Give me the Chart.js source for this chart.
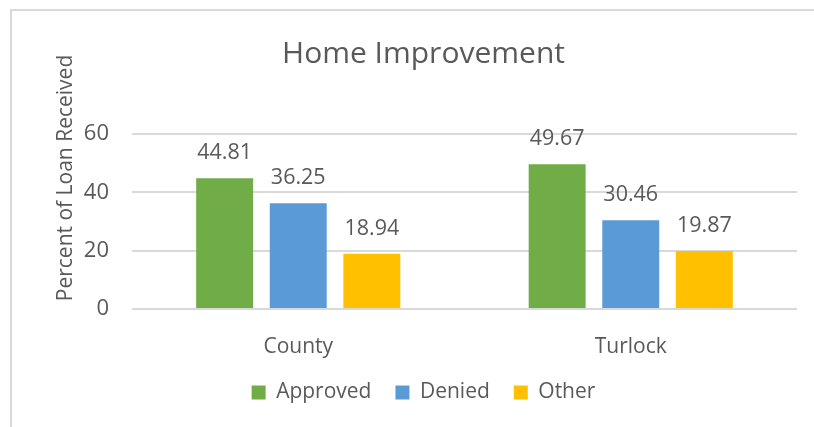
<!DOCTYPE html>
<html>
<head>
<meta charset="utf-8">
<script src="https://cdn.jsdelivr.net/npm/chart.js@4"></script>
<style>
  html, body { margin: 0; padding: 0; background: #fff; }
  #wrap { position: relative; width: 814px; height: 427px; overflow: hidden; }
  #frame { position: absolute; left: 10px; top: 9px; width: 900px; height: 500px;
           border-top: 2px solid #d9d9d9; border-left: 2px solid #d9d9d9; }
  canvas { position: absolute; left: 0; top: 0; }
</style>
</head>
<body>
<div id="wrap">
  <div id="frame"></div>
  <canvas id="chart" width="814" height="427"></canvas>
</div>
<script>
// chart values
const categories = ['County', 'Turlock'];
const approved = [44.81, 49.67];
const denied = [36.25, 30.46];
const other = [18.94, 19.87];
const yTicks = [0, 20, 40, 60];

const textColor = '#595959';
const fontFamily = '"Open Sans", "DejaVu Sans", sans-serif';

// value labels above each bar
const barLabels = {
    id: 'barLabels',
    afterDatasetsDraw(chart) {
        const ctx = chart.ctx;
        ctx.save();
        ctx.font = '21.5px ' + fontFamily;
        ctx.fillStyle = textColor;
        ctx.textAlign = 'center';
        ctx.textBaseline = 'middle';
        chart.data.datasets.forEach((ds, i) => {
            chart.getDatasetMeta(i).data.forEach((bar, j) => {
                ctx.fillText(ds.data[j].toFixed(2), bar.x, bar.y - 25);
            });
        });
        ctx.restore();
    }
};

// y axis title, centred on the whole chart like Excel does
const yTitle = {
    id: 'yTitle',
    afterDraw(chart) {
        const ctx = chart.ctx;
        ctx.save();
        ctx.translate(66, 178);
        ctx.rotate(-Math.PI / 2);
        ctx.font = '21px ' + fontFamily;
        ctx.fillStyle = textColor;
        ctx.textAlign = 'center';
        ctx.textBaseline = 'middle';
        ctx.fillText('Percent of Loan Received', 0, 0);
        ctx.restore();
    }
};

new Chart(document.getElementById('chart'), {
    type: 'bar',
    data: {
        labels: categories,
        datasets: [
            { label: 'Approved', data: approved, backgroundColor: '#70AD47' },
            { label: 'Denied', data: denied, backgroundColor: '#5B9BD5' },
            { label: 'Other', data: other, backgroundColor: '#FFC000' }
        ]
    },
    options: {
        responsive: false, animation: false,
        categoryPercentage: 0.664, barPercentage: 0.774,
        layout: { padding: { left: 50, right: 17, top: 10, bottom: 14 } },
        plugins: {
            title: {
                display: true, text: 'Home Improvement', color: textColor,
                font: { family: fontFamily, size: 30, weight: 'normal' },
                padding: { top: 26, bottom: 62 }
            },
            legend: {
                position: 'bottom',
                labels: { color: textColor, boxWidth: 14, boxHeight: 14, padding: 24,
                          font: { family: fontFamily, size: 21 } }
            },
            tooltip: { enabled: false }
        },
        scales: {
            x: {
                grid: { display: false }, border: { display: false },
                ticks: { color: textColor, padding: 17, font: { family: fontFamily, size: 21 } },
                afterFit(scale) { scale.height = 49; }
            },
            y: {
                min: 0, max: 60,
                afterBuildTicks(scale) { scale.ticks = yTicks.map(v => ({ value: v })); },
                grid: { color: '#D9D9D9', lineWidth: 2, drawTicks: false },
                border: { display: false },
                ticks: { color: textColor, padding: 23, font: { family: fontFamily, size: 22 } },
                afterFit(scale) { scale.width = 82; }
            }
        }
    },
    plugins: [barLabels, yTitle]
});
</script>
</body>
</html>
